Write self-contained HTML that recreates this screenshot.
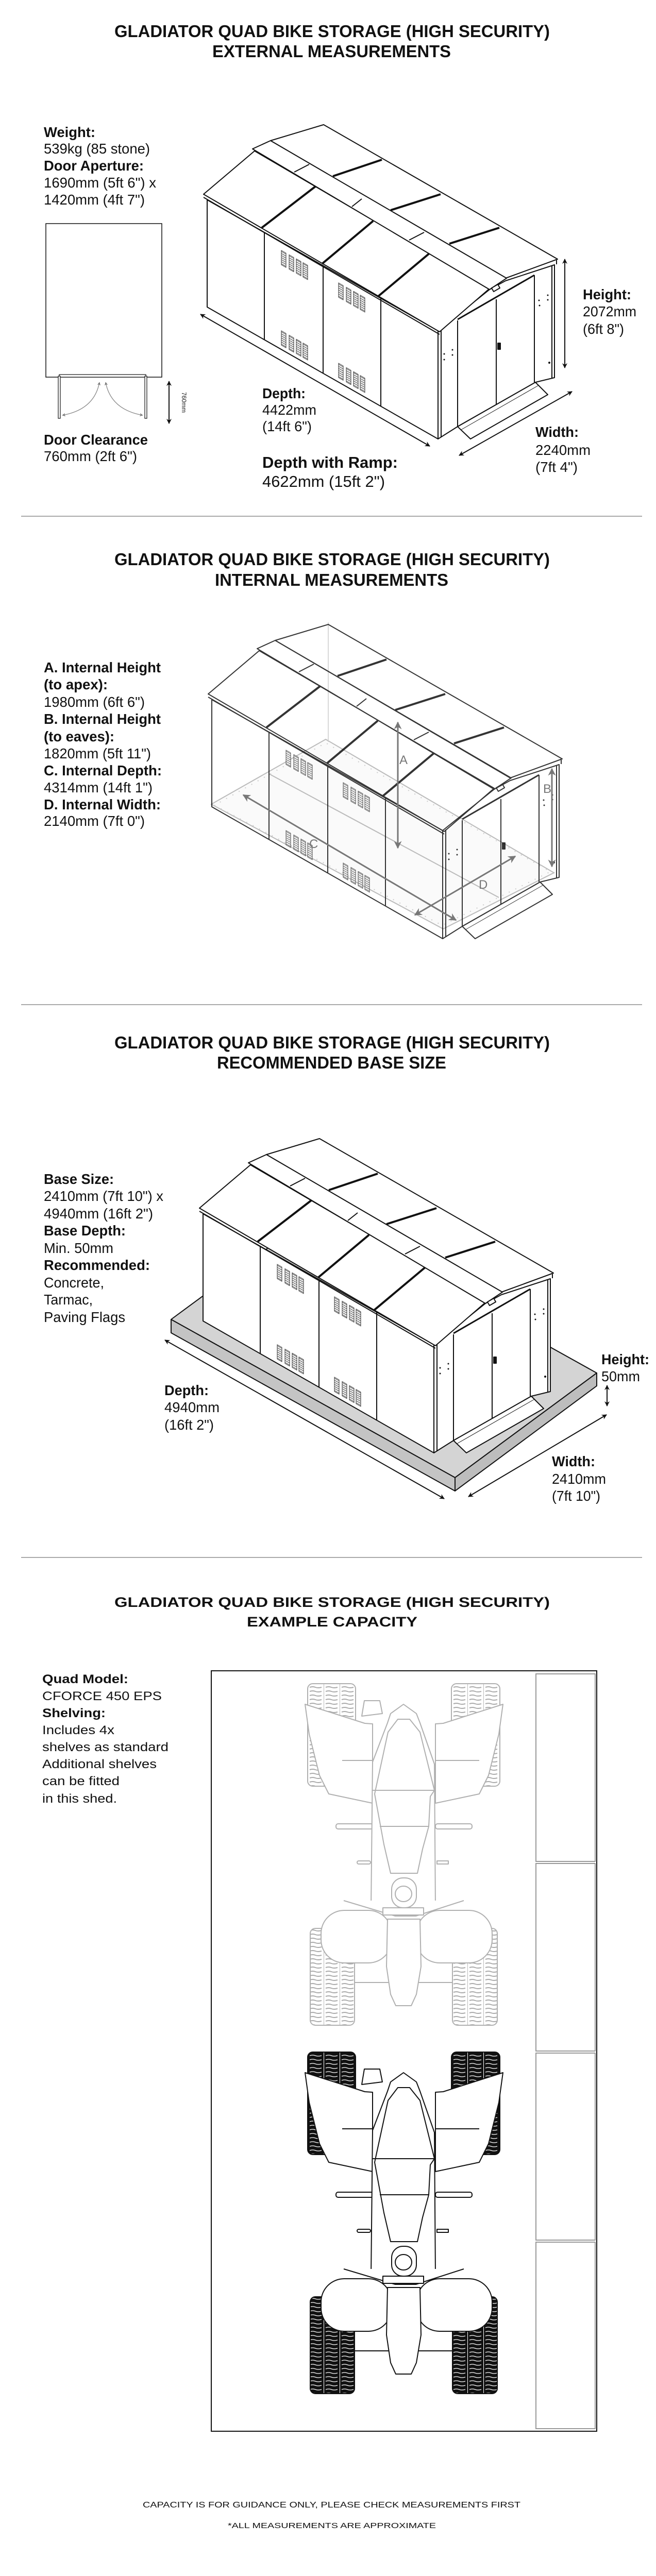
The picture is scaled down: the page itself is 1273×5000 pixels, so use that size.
<!DOCTYPE html>
<html><head><meta charset="utf-8"><style>
html,body{margin:0;padding:0;background:#fff;}
svg{display:block;}
text{font-family:"Liberation Sans",Arial,sans-serif;fill:#111;}
.t{font-size:33px;font-weight:bold;}
.b{font-size:28px;font-weight:bold;}
.r{font-size:28px;}
.s{font-size:24px;}
.sb{font-size:24px;font-weight:bold;}
</style></head><body>
<svg width="1273" height="5000" viewBox="0 0 1273 5000" xmlns="http://www.w3.org/2000/svg">
<defs>
<marker id="ak" viewBox="0 0 10 10" refX="9" refY="5" markerWidth="5" markerHeight="5" orient="auto-start-reverse"><path d="M0,0 L10,5 L0,10 L3,5 z" fill="#111"/></marker>
<marker id="ag" viewBox="0 0 10 10" refX="9" refY="5" markerWidth="5" markerHeight="5" orient="auto-start-reverse"><path d="M0,0 L10,5 L0,10 L3,5 z" fill="#777"/></marker>
<pattern id="slat" width="4" height="4" patternUnits="userSpaceOnUse"><rect width="4" height="4" fill="#fff"/><line x1="0" y1="2" x2="4" y2="2" stroke="#555" stroke-width="1.4"/></pattern>
<pattern id="treadG" width="31" height="8" patternUnits="userSpaceOnUse"><rect width="31" height="8" fill="#fff"/><path d="M4,4 q6,-2 11,0 t12,0" stroke="#aaa" stroke-width="2" fill="none"/><line x1="0.5" y1="0" x2="0.5" y2="8" stroke="#bbb" stroke-width="1"/></pattern>
<pattern id="treadK" width="31" height="8" patternUnits="userSpaceOnUse"><rect width="31" height="8" fill="#111"/><path d="M4,4 q6,-2 11,0 t12,0" stroke="#fff" stroke-width="1.3" fill="none"/><line x1="0.5" y1="0" x2="0.5" y2="8" stroke="#fff" stroke-width="1"/></pattern>

<g id="vent">
 <rect x="0" y="0" width="9" height="28" fill="url(#slat)" stroke="#333" stroke-width="1"/>
 <rect x="15" y="0" width="9" height="28" fill="url(#slat)" stroke="#333" stroke-width="1"/>
 <rect x="29" y="0" width="9" height="28" fill="url(#slat)" stroke="#333" stroke-width="1"/>
 <rect x="42" y="0" width="9" height="28" fill="url(#slat)" stroke="#333" stroke-width="1"/>
</g>

<g id="shed" stroke="#111" stroke-width="2" stroke-linejoin="round">
 <polygon points="402,388 850,642 850,852 402,596"/>
 <polygon points="850,642 950,562 981,545 1076,514 1076,733 1039,742 888,828 850,852"/>
 <line x1="513" y1="451" x2="513" y2="659"/>
 <line x1="627" y1="516" x2="627" y2="724"/>
 <line x1="739" y1="579" x2="739" y2="788"/>
 <line x1="856" y1="640" x2="856" y2="849"/>
 <line x1="888" y1="622" x2="888" y2="828"/>
 <line x1="963" y1="581" x2="963" y2="785"/>
 <line x1="1037" y1="534" x2="1037" y2="742"/>
 <line x1="1071" y1="516" x2="1071" y2="734"/>
 <line x1="888" y1="620" x2="1037" y2="534" stroke-width="3"/>
 <polygon points="888,828 913,852 1063,766 1039,742"/>
 <line x1="895" y1="834" x2="1045" y2="748" stroke-width="1"/>
 <rect x="966" y="666" width="5" height="12" fill="#111"/>
 <g fill="#111" stroke="none">
  <circle cx="862" cy="687" r="1.5"/><circle cx="878" cy="679" r="1.5"/><circle cx="878" cy="689" r="1.5"/><circle cx="862" cy="698" r="1.5"/>
  <circle cx="1046" cy="583" r="1.5"/><circle cx="1063" cy="573" r="1.5"/><circle cx="1063" cy="582" r="1.5"/><circle cx="1047" cy="593" r="1.5"/>
  <circle cx="1066" cy="704" r="2"/>
 </g>
 <g stroke="none">
  <use href="#vent" transform="translate(546,486) skewY(29.5)"/>
  <use href="#vent" transform="translate(546,642) skewY(29.5)"/>
  <use href="#vent" transform="translate(657,549) skewY(29.5)"/>
  <use href="#vent" transform="translate(657,705) skewY(29.5)"/>
 </g>
 <!-- roof -->
 <polygon points="525,273 628,242 1082,503 981,540"/>
 <polygon points="395,377 494,293 950,560 853,644"/>
 <line x1="395" y1="383" x2="853" y2="649"/>
 <polygon points="490,289 525,273 983,540 950,562"/>
 <line x1="571" y1="334" x2="600" y2="319"/>
 <line x1="683" y1="401" x2="702" y2="386"/>
 <line x1="794" y1="466" x2="823" y2="451"/>
 <line x1="508" y1="442" x2="612" y2="362" stroke-width="4"/>
 <line x1="625" y1="512" x2="724" y2="429" stroke-width="4"/>
 <line x1="734" y1="575" x2="833" y2="492" stroke-width="4"/>
 <line x1="646" y1="342" x2="741" y2="310" stroke-width="4"/>
 <line x1="758" y1="408" x2="855" y2="377" stroke-width="4"/>
 <line x1="872" y1="473" x2="969" y2="442" stroke-width="4"/>
 <line x1="1080" y1="505" x2="1080" y2="513"/>
 <rect x="955" y="555" width="14" height="8" transform="rotate(-30 962 559)"/>
</g>

<g id="quad" stroke-width="2" stroke-linejoin="round">
 <rect x="0" y="-3" width="93" height="199" rx="10"/>
 <rect x="279" y="-3" width="94" height="199" rx="10"/>
 <rect x="5" y="472" width="86" height="188" rx="10"/>
 <rect x="281" y="472" width="87" height="188" rx="10"/>
 <g fill="#fff">
 <polygon points="-5,37 111,74 126,75 126,229 41,211 23,175 3,95"/>
 <polygon points="379,37 263,74 248,75 248,229 333,211 351,175 371,95"/>
 <polygon points="110,30 140,30 145,55 105,60"/>
 <rect x="55" y="269" width="72" height="10" rx="4"/>
 <rect x="248" y="269" width="71" height="10" rx="4"/>
 <rect x="96" y="341" width="26" height="6" rx="3"/>
 <rect x="251" y="341" width="22" height="6"/>
 <polygon points="161,55 186,37 211,55 218,73 246,153 248,434 123,434 126,149 155,73"/>
 <polygon points="175,66 198,66 218,91 246,204 238,216 235,274 223,318 213,365 161,365 148,309 130,211 156,91"/>
 <line x1="126" y1="204" x2="248" y2="204"/>
 <line x1="140" y1="274" x2="235" y2="274"/>
 <line x1="67" y1="146" x2="126" y2="146"/><line x1="248" y1="146" x2="333" y2="146"/>
 <path d="M70,418 L170,448 L210,448 L303,418"/>
 <rect x="26" y="437" width="137" height="102" rx="45"/>
 <rect x="211" y="437" width="147" height="102" rx="45"/>
 <line x1="92" y1="577" x2="281" y2="577"/>
 <polygon points="155,454 218,454 220,546 211,600 201,622 171,622 161,600 153,546"/>
 <rect x="163" y="374" width="48" height="58" rx="22"/>
 <ellipse cx="186" cy="405" rx="16" ry="15"/>
 <rect x="146" y="432" width="79" height="14"/>
 </g>
</g>
</defs>

<!-- SECTION 1 -->
<text class="t" x="222" y="72" textLength="845" lengthAdjust="spacingAndGlyphs">GLADIATOR QUAD BIKE STORAGE (HIGH SECURITY)</text>
<text class="t" x="412" y="111" textLength="463" lengthAdjust="spacingAndGlyphs">EXTERNAL MEASUREMENTS</text>
<text class="b" x="85" y="266" textLength="100" lengthAdjust="spacingAndGlyphs">Weight:</text>
<text class="r" x="85" y="298" textLength="206" lengthAdjust="spacingAndGlyphs">539kg (85 stone)</text>
<text class="b" x="85" y="331" textLength="194" lengthAdjust="spacingAndGlyphs">Door Aperture:</text>
<text class="r" x="85" y="364" textLength="218" lengthAdjust="spacingAndGlyphs">1690mm (5ft 6") x</text>
<text class="r" x="85" y="397" textLength="196" lengthAdjust="spacingAndGlyphs">1420mm (4ft 7")</text>
<rect x="89" y="434" width="225" height="298" fill="none" stroke="#111" stroke-width="1.5"/>
<rect x="115" y="727" width="168" height="5" fill="#fff" stroke="#111" stroke-width="1.2"/>
<rect x="113" y="730" width="4" height="82" fill="#fff" stroke="#111" stroke-width="1.2"/>
<rect x="281" y="730" width="4" height="82" fill="#fff" stroke="#111" stroke-width="1.2"/>
<path d="M193,742 Q183,795 121,806" fill="none" stroke="#888" stroke-width="1.3" marker-start="url(#ag)" marker-end="url(#ag)"/>
<path d="M205,742 Q215,795 277,806" fill="none" stroke="#888" stroke-width="1.3" marker-start="url(#ag)" marker-end="url(#ag)"/>
<line x1="328" y1="740" x2="328" y2="822" stroke="#111" stroke-width="2" marker-start="url(#ak)" marker-end="url(#ak)"/>
<text x="353" y="781" font-size="12" text-anchor="middle" transform="rotate(90 353 781)">760mm</text>
<text class="b" x="85" y="863" textLength="202" lengthAdjust="spacingAndGlyphs">Door Clearance</text>
<text class="r" x="85" y="895" textLength="181" lengthAdjust="spacingAndGlyphs">760mm (2ft 6")</text>

<use href="#shed" fill="#fff"/>
<line x1="389" y1="610" x2="834" y2="866" stroke="#111" stroke-width="2" marker-start="url(#ak)" marker-end="url(#ak)"/>
<line x1="891" y1="884" x2="1110" y2="760" stroke="#111" stroke-width="2" marker-start="url(#ak)" marker-end="url(#ak)"/>
<line x1="1096" y1="503" x2="1096" y2="714" stroke="#111" stroke-width="2" marker-start="url(#ak)" marker-end="url(#ak)"/>
<text class="b" x="1131" y="581" textLength="94" lengthAdjust="spacingAndGlyphs">Height:</text>
<text class="r" x="1131" y="614" textLength="104" lengthAdjust="spacingAndGlyphs">2072mm</text>
<text class="r" x="1131" y="648" textLength="80" lengthAdjust="spacingAndGlyphs">(6ft 8")</text>
<text class="b" x="509" y="773" textLength="84" lengthAdjust="spacingAndGlyphs">Depth:</text>
<text class="r" x="509" y="805" textLength="105" lengthAdjust="spacingAndGlyphs">4422mm</text>
<text class="r" x="509" y="837" textLength="96" lengthAdjust="spacingAndGlyphs">(14ft 6")</text>
<text class="b" x="1039" y="848" textLength="84" lengthAdjust="spacingAndGlyphs">Width:</text>
<text class="r" x="1039" y="883" textLength="107" lengthAdjust="spacingAndGlyphs">2240mm</text>
<text class="r" x="1039" y="916" textLength="82" lengthAdjust="spacingAndGlyphs">(7ft 4")</text>
<text x="509" y="908" font-size="31" font-weight="bold" textLength="263" lengthAdjust="spacingAndGlyphs">Depth with Ramp:</text>
<text x="509" y="945" font-size="31" textLength="238" lengthAdjust="spacingAndGlyphs">4622mm (15ft 2")</text>

<line x1="41" y1="1002" x2="1246" y2="1002" stroke="#aaa" stroke-width="2"/>

<!-- SECTION 2 -->
<text class="t" x="222" y="1097" textLength="845" lengthAdjust="spacingAndGlyphs">GLADIATOR QUAD BIKE STORAGE (HIGH SECURITY)</text>
<text class="t" x="417" y="1137" textLength="453" lengthAdjust="spacingAndGlyphs">INTERNAL MEASUREMENTS</text>
<text class="b" x="85" y="1305" textLength="227" lengthAdjust="spacingAndGlyphs">A. Internal Height</text>
<text class="b" x="85" y="1338" textLength="124" lengthAdjust="spacingAndGlyphs">(to apex):</text>
<text class="r" x="85" y="1372" textLength="196" lengthAdjust="spacingAndGlyphs">1980mm (6ft 6")</text>
<text class="b" x="85" y="1405" textLength="227" lengthAdjust="spacingAndGlyphs">B. Internal Height</text>
<text class="b" x="85" y="1439" textLength="137" lengthAdjust="spacingAndGlyphs">(to eaves):</text>
<text class="r" x="85" y="1472" textLength="208" lengthAdjust="spacingAndGlyphs">1820mm (5ft 11")</text>
<text class="b" x="85" y="1505" textLength="229" lengthAdjust="spacingAndGlyphs">C. Internal Depth:</text>
<text class="r" x="85" y="1538" textLength="211" lengthAdjust="spacingAndGlyphs">4314mm (14ft 1")</text>
<text class="b" x="85" y="1571" textLength="227" lengthAdjust="spacingAndGlyphs">D. Internal Width:</text>
<text class="r" x="85" y="1603" textLength="196" lengthAdjust="spacingAndGlyphs">2140mm (7ft 0")</text>

<g stroke="#bbb" stroke-width="2" fill="#fafafa">
 <polygon points="410,1561 860,1803 1075,1694 632,1435"/>
 <polygon points="416,1563 858,1796 1068,1692 632,1442" fill="none" stroke-dasharray="2 12" stroke="#ccc"/>
 <line x1="522" y1="1502" x2="968" y2="1742"/>
 <line x1="636" y1="1500" x2="744" y2="1620" stroke="none"/>
</g>
<line x1="637" y1="1208" x2="637" y2="1440" stroke="#ccc" stroke-width="1.5"/>
<use href="#shed" fill="none" transform="translate(9,970)" opacity="0.85"/>
<g stroke="#777" stroke-width="3">
 <line x1="772" y1="1402" x2="772" y2="1646" marker-start="url(#ag)" marker-end="url(#ag)"/>
 <line x1="1071" y1="1492" x2="1071" y2="1682" marker-start="url(#ag)" marker-end="url(#ag)"/>
 <line x1="472" y1="1543" x2="885" y2="1786" marker-start="url(#ag)" marker-end="url(#ag)"/>
 <line x1="805" y1="1776" x2="1000" y2="1662" marker-start="url(#ag)" marker-end="url(#ag)"/>
</g>
<g font-size="24" fill="#777" style="fill:#777">
 <text x="775" y="1483" style="fill:#777">A</text>
 <text x="1054" y="1539" style="fill:#777">B</text>
 <text x="600" y="1646" style="fill:#777">C</text>
 <text x="929" y="1725" style="fill:#777">D</text>
</g>

<line x1="41" y1="1950" x2="1246" y2="1950" stroke="#aaa" stroke-width="2"/>

<!-- SECTION 3 -->
<text class="t" x="222" y="2035" textLength="845" lengthAdjust="spacingAndGlyphs">GLADIATOR QUAD BIKE STORAGE (HIGH SECURITY)</text>
<text class="t" x="421" y="2074" textLength="445" lengthAdjust="spacingAndGlyphs">RECOMMENDED BASE SIZE</text>
<text class="b" x="85" y="2298" textLength="136" lengthAdjust="spacingAndGlyphs">Base Size:</text>
<text class="r" x="85" y="2331" textLength="232" lengthAdjust="spacingAndGlyphs">2410mm (7ft 10") x</text>
<text class="r" x="85" y="2365" textLength="212" lengthAdjust="spacingAndGlyphs">4940mm (16ft 2")</text>
<text class="b" x="85" y="2398" textLength="159" lengthAdjust="spacingAndGlyphs">Base Depth:</text>
<text class="r" x="85" y="2432" textLength="135" lengthAdjust="spacingAndGlyphs">Min. 50mm</text>
<text class="b" x="85" y="2465" textLength="206" lengthAdjust="spacingAndGlyphs">Recommended:</text>
<text class="r" x="85" y="2499" textLength="117" lengthAdjust="spacingAndGlyphs">Concrete,</text>
<text class="r" x="85" y="2532" textLength="95" lengthAdjust="spacingAndGlyphs">Tarmac,</text>
<text class="r" x="85" y="2566" textLength="158" lengthAdjust="spacingAndGlyphs">Paving Flags</text>
<g stroke="#111" stroke-width="2" stroke-linejoin="round">
 <polygon points="332,2561 883,2868 1158,2665 607,2358" fill="#d4d4d4"/>
 <polygon points="332,2561 883,2868 883,2894 332,2587" fill="#c4c4c4"/>
 <polygon points="883,2868 1158,2665 1158,2690 883,2894" fill="#bdbdbd"/>
</g>
<use href="#shed" fill="#fff" transform="translate(-8,1968)"/>
<line x1="320" y1="2601" x2="862" y2="2909" stroke="#111" stroke-width="2" marker-start="url(#ak)" marker-end="url(#ak)"/>
<line x1="909" y1="2905" x2="1177" y2="2746" stroke="#111" stroke-width="2" marker-start="url(#ak)" marker-end="url(#ak)"/>
<line x1="1178" y1="2689" x2="1178" y2="2729" stroke="#111" stroke-width="2" marker-start="url(#ak)" marker-end="url(#ak)"/>
<text class="b" x="1167" y="2648" textLength="93" lengthAdjust="spacingAndGlyphs">Height:</text>
<text class="r" x="1167" y="2681" textLength="75" lengthAdjust="spacingAndGlyphs">50mm</text>
<text class="b" x="319" y="2708" textLength="86" lengthAdjust="spacingAndGlyphs">Depth:</text>
<text class="r" x="319" y="2741" textLength="107" lengthAdjust="spacingAndGlyphs">4940mm</text>
<text class="r" x="319" y="2775" textLength="96" lengthAdjust="spacingAndGlyphs">(16ft 2")</text>
<text class="b" x="1071" y="2846" textLength="84" lengthAdjust="spacingAndGlyphs">Width:</text>
<text class="r" x="1071" y="2880" textLength="105" lengthAdjust="spacingAndGlyphs">2410mm</text>
<text class="r" x="1071" y="2913" textLength="94" lengthAdjust="spacingAndGlyphs">(7ft 10")</text>

<line x1="41" y1="3023" x2="1246" y2="3023" stroke="#aaa" stroke-width="2"/>

<!-- SECTION 4 -->
<text x="222" y="3119" font-size="27" font-weight="bold" textLength="845" lengthAdjust="spacingAndGlyphs">GLADIATOR QUAD BIKE STORAGE (HIGH SECURITY)</text>
<text x="479" y="3157" font-size="27" font-weight="bold" textLength="331" lengthAdjust="spacingAndGlyphs">EXAMPLE CAPACITY</text>
<text class="sb" x="82" y="3267" textLength="167" lengthAdjust="spacingAndGlyphs">Quad Model:</text>
<text class="s" x="82" y="3300" textLength="232" lengthAdjust="spacingAndGlyphs">CFORCE 450 EPS</text>
<text class="sb" x="82" y="3333" textLength="123" lengthAdjust="spacingAndGlyphs">Shelving:</text>
<text class="s" x="82" y="3366" textLength="140" lengthAdjust="spacingAndGlyphs">Includes 4x</text>
<text class="s" x="82" y="3399" textLength="245" lengthAdjust="spacingAndGlyphs">shelves as standard</text>
<text class="s" x="82" y="3432" textLength="222" lengthAdjust="spacingAndGlyphs">Additional shelves</text>
<text class="s" x="82" y="3465" textLength="150" lengthAdjust="spacingAndGlyphs">can be fitted</text>
<text class="s" x="82" y="3499" textLength="145" lengthAdjust="spacingAndGlyphs">in this shed.</text>

<rect x="410" y="3243" width="748" height="1476" fill="#fff" stroke="#111" stroke-width="2"/>
<g fill="none" stroke="#999" stroke-width="2">
 <rect x="1040" y="3249" width="115" height="364"/>
 <rect x="1040" y="3617" width="115" height="364"/>
 <rect x="1040" y="3985" width="115" height="363"/>
 <rect x="1040" y="4352" width="115" height="362"/>
</g>
<use href="#quad" transform="translate(597,3271)" stroke="#b0b0b0" fill="url(#treadG)"/>
<use href="#quad" transform="translate(597,3986)" stroke="#111" fill="url(#treadK)"/>

<text x="277" y="4867" font-size="16" textLength="733" lengthAdjust="spacingAndGlyphs">CAPACITY IS FOR GUIDANCE ONLY, PLEASE CHECK MEASUREMENTS FIRST</text>
<text x="442" y="4907" font-size="15" textLength="404" lengthAdjust="spacingAndGlyphs">*ALL MEASUREMENTS ARE APPROXIMATE</text>
</svg>
</body></html>
